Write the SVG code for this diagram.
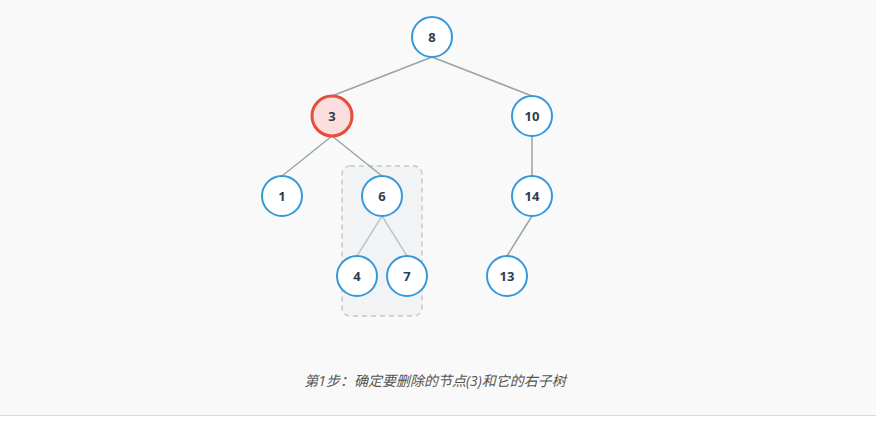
<svg xmlns="http://www.w3.org/2000/svg" width="876" height="421" viewBox="0 0 876 421">
<style>
.bg{fill:#f9f9f9}
.edge{stroke:#95a5a6;stroke-width:1.5;fill:none}
.edge.sub{stroke:#bdc6c6}
.node circle{fill:#ffffff;stroke:#3498db;stroke-width:2}
.node.hl circle{fill:#fddede;stroke:#e74c3c;stroke-width:3}
.node text{font-family:"Open Sans","Noto Sans",sans-serif;font-weight:bold;font-size:13px;fill:#2c3e50;text-anchor:middle;dominant-baseline:central}
.caption{font-family:"Open Sans","Noto Sans CJK SC",sans-serif;font-style:italic;font-size:14px;fill:#555555;text-anchor:middle}
</style>
<rect class="bg" x="0" y="0" width="876" height="415"/>
<rect x="0" y="415" width="876" height="6" fill="#ffffff"/>
<line x1="0" y1="415.5" x2="876" y2="415.5" stroke="#dddddd" stroke-width="1"/>
<rect id="subtree" x="342" y="166" width="80" height="150" rx="8" fill="#f1f3f5" stroke="#c5c9cc" stroke-width="1.5" stroke-dasharray="5,4"/>
<g id="connectors">
<line class="edge" x1="432" y1="57" x2="332" y2="96"/>
<line class="edge" x1="432" y1="57" x2="532" y2="96"/>
<line class="edge" x1="332" y1="136" x2="282" y2="176"/>
<line class="edge" x1="332" y1="136" x2="382" y2="176"/>
<line class="edge" x1="532" y1="136" x2="532" y2="176"/>
<line class="edge sub" x1="382" y1="216" x2="357" y2="256"/>
<line class="edge sub" x1="382" y1="216" x2="407" y2="256"/>
<line class="edge" x1="532" y1="216" x2="507" y2="256"/>
</g>
<g id="n8" class="node"><circle cx="432" cy="37" r="20"/><text x="432" y="37">8</text></g>
<g id="n3" class="node hl"><circle cx="332" cy="116" r="20"/><text x="332" y="116">3</text></g>
<g id="n10" class="node"><circle cx="532" cy="116" r="20"/><text x="532" y="116">10</text></g>
<g id="n1" class="node"><circle cx="282" cy="196" r="20"/><text x="282" y="196">1</text></g>
<g id="n6" class="node"><circle cx="382" cy="196" r="20"/><text x="382" y="196">6</text></g>
<g id="n14" class="node"><circle cx="532" cy="196" r="20"/><text x="532" y="196">14</text></g>
<g id="n4" class="node"><circle cx="357" cy="276" r="20"/><text x="357" y="276">4</text></g>
<g id="n7" class="node"><circle cx="407" cy="276" r="20"/><text x="407" y="276">7</text></g>
<g id="n13" class="node"><circle cx="507" cy="276" r="20"/><text x="507" y="276">13</text></g>
<text class="caption" x="435" y="386">第1步：确定要删除的节点(3)和它的右子树</text>
</svg>
